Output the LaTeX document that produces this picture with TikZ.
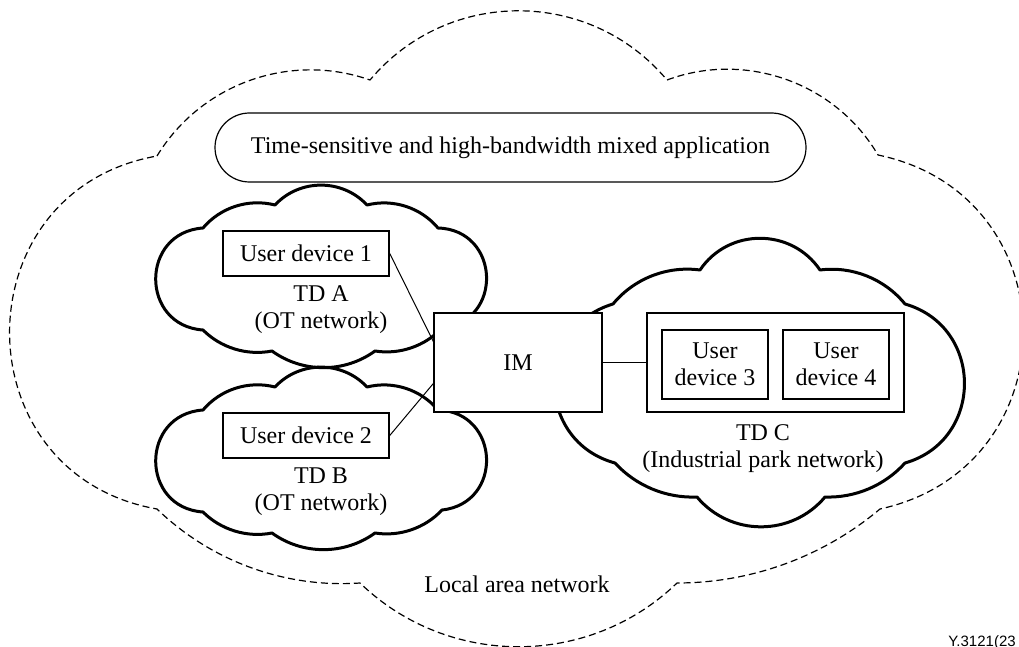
\documentclass[tikz,border=0pt]{standalone}
\usepackage{fontspec}
\setmainfont{Liberation Serif}
\newfontfamily\labelsans{Liberation Sans}
\usetikzlibrary{calc}
\tikzset{
  lb/.style 2 args={bend left=#1,looseness=#2},
  cloudline/.style={line width=1.5pt,line join=round},
  lanline/.style={line width=0.6pt,dash pattern=on 3.5pt off 2pt,line join=round},
  devbox/.style={draw,line width=0.75pt,fill=white,inner sep=0pt,align=center,font=\fontsize{12}{13.5}\selectfont},
  lbl/.style={inner sep=0pt,align=center,font=\fontsize{12}{13.5}\selectfont},
  link/.style={line width=0.5pt}
}
\begin{document}
\begin{tikzpicture}[x=0.5pt,y=-0.5pt]
\useasboundingbox (0,0) rectangle (1019,647);
% outer dashed cloud (local area network)
\draw[lanline] (157,156) to[lb={39}{0.96}] (370,80) to[lb={50}{1.04}] (667,80)
  to[lb={40}{0.96}] (878,155) to[lb={78}{1.42}] (880,509) to[lb={20}{0.88}] (677,583)
  to[lb={44}{0.99}] (360,583) to[lb={24}{0.89}] (157,509) to[lb={80}{1.45}] (157,156) -- cycle;
% cloud B and cloud A (A = B shifted up)
\foreach \dy in {0,-182}{
\draw[cloudline,shift={(0,\dy)}] (203,410) to[lb={32}{0.92}] (275,387) to[lb={47}{1.01}] (367,387)
  to[lb={32}{0.92}] (438,410) to[lb={86}{1.59}] (442,510) to[lb={28}{0.90}] (375,533)
  to[lb={36}{0.94}] (272,533) to[lb={28}{0.90}] (203,512) to[lb={86}{1.59}] (203,410) -- cycle;
}
% cloud C
\draw[cloudline] (613,304) to[lb={29}{0.91}] (700,270) to[lb={56}{1.09}] (820,270)
  to[lb={29}{0.91}] (905,304) to[lb={74}{1.33}] (905,463) to[lb={25}{0.89}] (825,497)
  to[lb={50}{1.04}] (697,497) to[lb={25}{0.89}] (615,463) to[lb={74}{1.33}] (613,304) -- cycle;
% boxes
\node[devbox,rounded corners=17.25pt,minimum width=295.5pt,minimum height=34.5pt,line width=0.6pt] (app) at (510.5,147.5) {Time-sensitive and high-bandwidth mixed application};
\node[devbox,minimum width=83pt,minimum height=22.5pt] (ud1) at (306,253.5) {User device 1};
\node[devbox,minimum width=83pt,minimum height=22.5pt] (ud2) at (306,435.5) {User device 2};
\node[devbox,minimum width=84pt,minimum height=49.5pt] (im) at (518,362.5) {IM};
\node[devbox,minimum width=128.5pt,minimum height=49.5pt] (tdc) at (775.5,362.5) {};
\node[devbox,minimum width=53pt,minimum height=34.5pt] (ud3) at (715,364.5) {User\\device 3};
\node[devbox,minimum width=53pt,minimum height=34.5pt] (ud4) at (836,364.5) {User\\device 4};
% labels
\node[lbl] (tda) at (321,309.5) {TD A\\(OT network)};
\node[lbl] (tdb) at (321,492) {TD B\\(OT network)};
\node[lbl] (tdcl) at (763,449) {TD C\\(Industrial park network)};
\node[lbl] (lan) at (517,584) {Local area network};
\node[inner sep=0pt,anchor=base west,font=\labelsans\fontsize{7.5}{9}\selectfont] (fig) at (948,646) {Y.3121(23};
% connectors
\draw[link] (ud1.east) -- ($(im.north west)!0.29!(im.south west)$);
\draw[link] (ud2.east) -- ($(im.north west)!0.71!(im.south west)$);
\draw[link] (im.east) -- (tdc.west);
\end{tikzpicture}
\end{document}
